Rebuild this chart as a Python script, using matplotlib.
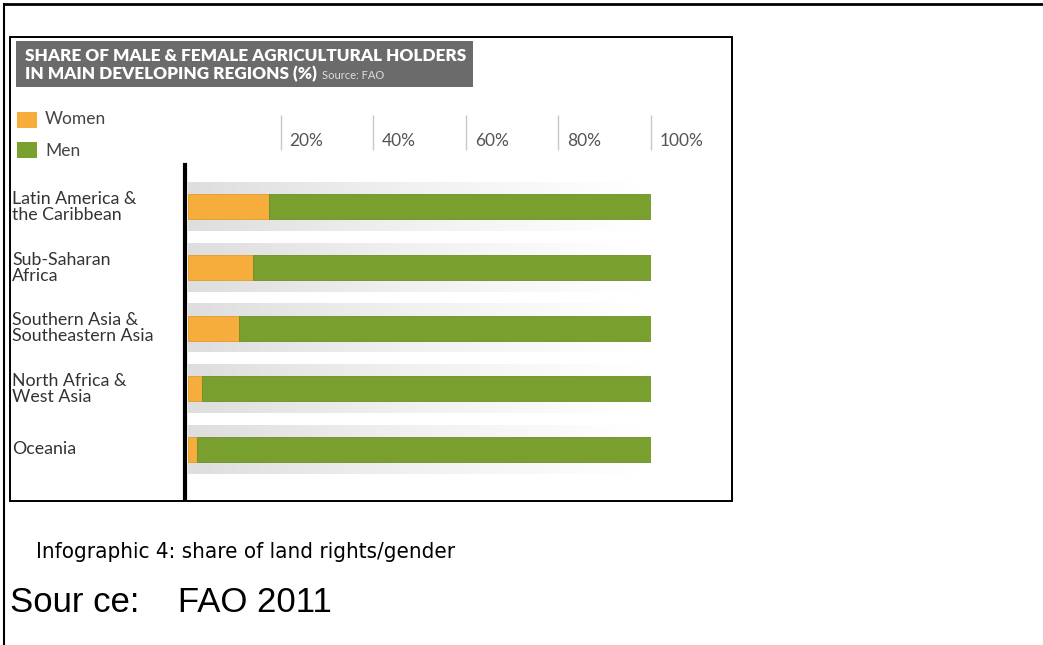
import numpy as np
import matplotlib
matplotlib.use('Agg')
import matplotlib.pyplot as plt
from matplotlib.patches import Rectangle
from matplotlib.colors import LinearSegmentedColormap
from matplotlib.transforms import blended_transform_factory

# ----------- data -------------------------
regions = ['Latin America &\nthe Caribbean', 'Sub-Saharan\nAfrica',
           'Southern Asia &\nSoutheastern Asia', 'North Africa &\nWest Asia', 'Oceania']
women = [17.5, 14, 11, 3, 2]
men = [100 - w for w in women]
ticks = [20, 40, 60, 80, 100]
tick_labels = ['20%', '40%', '60%', '80%', '100%']

ORANGE = '#f6ad3b'
GREEN = '#79a02f'
FONT = ['Lato', 'DejaVu Sans']

W, H = 1043, 645
fig = plt.figure(figsize=(W / 100, H / 100), dpi=100)

# background axes in pixel units (frames, title box, legend, captions)
bg = fig.add_axes([0, 0, 1, 1])
bg.set_xlim(0, W)
bg.set_ylim(H, 0)
bg.axis('off')

# outer page frame (left + top)
bg.plot([4, 4], [4, H], color='black', lw=1.5)
bg.plot([4, W], [4, 4], color='black', lw=2)
# image box
bg.add_patch(Rectangle((10, 37), 722, 464, fill=False, ec='black', lw=1.4))

# title box
bg.add_patch(Rectangle((16, 41), 457, 46, color='#6b6b6b', lw=0))
bg.text(25, 56, 'SHARE OF MALE & FEMALE AGRICULTURAL HOLDERS', color='white',
        fontsize=12.3, fontweight='heavy', family=FONT, va='center')
t2 = bg.text(25, 74, 'IN MAIN DEVELOPING REGIONS (%)', color='white',
             fontsize=12.3, fontweight='heavy', family=FONT, va='center')
bg.annotate('Source: FAO', xy=(1, 0), xycoords=t2, xytext=(4, 1), textcoords='offset points',
            color='#dddddd', fontsize=8, family=FONT, va='bottom')

# legend
bg.add_patch(Rectangle((17, 112), 20, 16, color=ORANGE, lw=0))
bg.add_patch(Rectangle((17, 142), 20, 16, color=GREEN, lw=0))
bg.text(45, 119, 'Women', fontsize=12.5, family=FONT, color='#444444', va='center')
bg.text(45, 151, 'Men', fontsize=12.5, family=FONT, color='#444444', va='center')

# captions under the image
bg.text(36, 552, 'Infographic 4: share of land rights/gender', fontsize=16,
        family=['DejaVu Sans'], fontstretch='condensed', va='center')
bg.text(10, 602, 'Sour ce:    FAO 2011', fontsize=25,
        family=['Liberation Sans', 'DejaVu Sans'], va='center')

# ----------- bar axes -------------------------
x0, x1 = 188, 651
ytop, ybot = 165, 498
ax = fig.add_axes([x0 / W, 1 - ybot / H, (x1 - x0) / W, (ybot - ytop) / H])
ax.patch.set_alpha(0)
y = np.arange(len(regions))

# gray fading band behind each bar
grad = np.linspace(0, 1, 256).reshape(1, -1)
fade = LinearSegmentedColormap.from_list('fade', ['#dedede', '#f1f1f1', '#ffffff'])
for yi in y:
    ax.imshow(grad, cmap=fade, aspect='auto', extent=(0, 97, yi + 0.40, yi - 0.40),
              zorder=1, interpolation='bicubic')

ax.barh(y, women, height=0.41, color=ORANGE, edgecolor='#e09a30', lw=0.6, zorder=2)
ax.barh(y, men, left=women, height=0.41, color=GREEN, edgecolor='#6a8f28', lw=0.6, zorder=2)
ax.set_xlim(0, 100)
ax.set_ylim(4.80, -0.69)

for s in ['top', 'right', 'bottom']:
    ax.spines[s].set_visible(False)
ax.spines['left'].set_linewidth(3)
ax.spines['left'].set_position(('outward', 2.5))
ax.set_xticks([])
ax.set_yticks([])

# tick marks and labels above the plot
xt = ax.get_xaxis_transform()
ax.vlines(ticks, 1.045, 1.15, transform=xt, color='#c8c8c8', lw=1, clip_on=False)
for t, lab in zip(ticks, tick_labels):
    ax.annotate(lab, xy=(t, 1.072), xycoords=xt, xytext=(6.5, 0), textcoords='offset points',
                fontsize=12.5, family=FONT, color='#555555', va='center', annotation_clip=False)

# region labels on the left
lt = blended_transform_factory(fig.transFigure, ax.transData)
for yi, r in zip(y, regions):
    ax.text(12 / W, yi, r, transform=lt, fontsize=12.8, family=FONT, color='#333333',
            va='center', ha='left', linespacing=1.0)

fig.savefig('out.png', dpi=100)
